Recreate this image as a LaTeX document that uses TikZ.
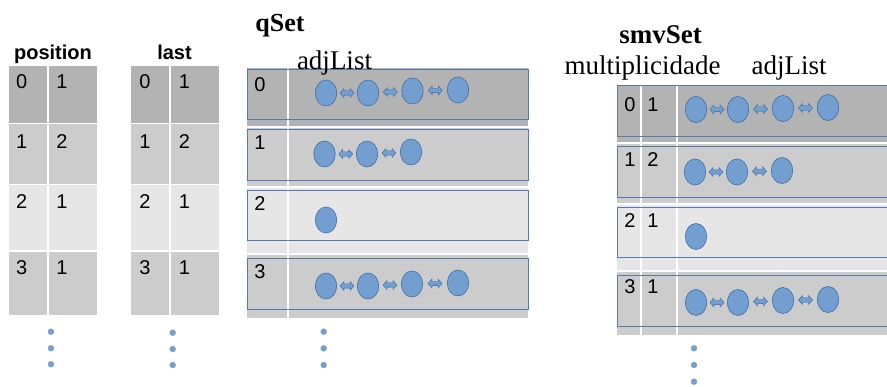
\documentclass[tikz,border=0pt]{standalone}
\usepackage{fontspec}
\setmainfont{Liberation Serif}
\newfontfamily\sansfont{Liberation Sans}
\usetikzlibrary{shapes.geometric,calc}

\definecolor{rowdark}{HTML}{B3B3B3}
\definecolor{rowmid}{HTML}{CCCCCC}
\definecolor{rowlight}{HTML}{E6E6E6}
\definecolor{nodefill}{HTML}{729FCF}
\definecolor{nodeline}{HTML}{3465A4}
\definecolor{boxline}{HTML}{5779B3}

\tikzset{
  ell/.style={ellipse, inner sep=0pt, minimum width=21.5pt, minimum height=26pt,
              fill=nodefill, draw=nodeline, line width=0.5pt},
  dotmark/.style={circle, inner sep=0pt, minimum size=6pt, fill=nodefill,
                  draw=nodeline!60, line width=0.3pt},
  num/.style={anchor=base, inner sep=0pt, font=\sansfont\fontsize{20}{23}\selectfont},
  hdr/.style={anchor=base, inner sep=0pt, font=\sansfont\bfseries\fontsize{20}{24}\selectfont},
  ttl/.style={anchor=base, inner sep=0pt, font=\bfseries\fontsize{26}{30}\selectfont},
  lbl/.style={anchor=base, inner sep=0pt, font=\fontsize{27}{30}\selectfont},
  sep/.style={white, line width=1.6pt},
  listbox/.style={draw=boxline, line width=0.9pt},
  biarrow/.pic={
    \filldraw[fill=nodefill, draw=nodeline, line width=0.4pt]
      (-7,0) -- (-3,-4.5) -- (-3,-2.2) -- (3,-2.2) -- (3,-4.5) -- (7,0)
      -- (3,4.5) -- (3,2.2) -- (-3,2.2) -- (-3,4.5) -- cycle;
  }
}

\begin{document}
\begin{tikzpicture}[x=1pt, y=-1pt]
\useasboundingbox (0,0) rectangle (887,387);

% ---------- position and last tables ----------
\foreach \xl/\xm/\xr in {9/48/97, 131/170/219} {
  \fill[rowdark]  (\xl,66)    rectangle (\xr,123.5);
  \fill[rowmid]   (\xl,123.5) rectangle (\xr,184.5);
  \fill[rowlight] (\xl,184.5) rectangle (\xr,251);
  \fill[rowmid]   (\xl,251)   rectangle (\xr,315);
  \foreach \yy in {123.5,184.5,251} \draw[sep] (\xl,\yy) -- (\xr,\yy);
  \draw[sep] (\xm,66) -- (\xm,315);
}
\node[hdr] (posHead) at (53,60) {position};
\node[hdr] (lastHead) at (174.5,60) {last};

\foreach \r/\a/\b/\y in {0/0/1/89, 1/1/2/148.3, 2/2/1/208.3, 3/3/1/274.3} {
  \node[num] (pa\r) at (21.7,\y) {\a};
  \node[num] (pb\r) at (62,\y) {\b};
  \node[num] (la\r) at (145,\y) {\a};
  \node[num] (lb\r) at (184.5,\y) {\b};
}

% ---------- qSet ----------
\fill[rowdark]  (247,68)  rectangle (528,127);
\fill[rowmid]   (247,127) rectangle (528,187);
\fill[rowlight] (247,187) rectangle (528,254);
\fill[rowmid]   (247,254) rectangle (528,318);
\foreach \yy in {127,187,254} \draw[sep] (247,\yy) -- (528,\yy);
\draw[sep] (288,68) -- (288,318);
\foreach \ya/\yb in {69/119, 129/180, 190/240, 258/309}
  \draw[listbox] (247.5,\ya) rectangle (528,\yb);

\node[ttl] (qHead) at (280,31.7) {qSet};
\node[lbl] (qAdj) at (334.5,70) {adjList};

\foreach \r/\y in {0/91.7, 1/150, 2/211, 3/278.3}
  \node[num] (qi\r) at (260,\y) {\r};

\node[ell] (q0a) at (326,93) {};
\node[ell] (q0b) at (368,93) {};
\node[ell] (q0c) at (412.5,91) {};
\node[ell] (q0d) at (458,90) {};
\node[ell] (q1a) at (324.5,154) {};
\node[ell] (q1b) at (367,154) {};
\node[ell] (q1c) at (411,152) {};
\node[ell] (q2a) at (326,220) {};
\node[ell] (q3a) at (326,286) {};
\node[ell] (q3b) at (368,286) {};
\node[ell] (q3c) at (412,284) {};
\node[ell] (q3d) at (458,283) {};

\foreach \u/\v in {q0a/q0b, q0b/q0c, q0c/q0d, q1a/q1b, q1b/q1c, q3a/q3b, q3b/q3c, q3c/q3d}
  \pic at ($(\u.east)!0.5!(\v.west)$) {biarrow};

% ---------- smvSet ----------
\fill[rowdark]  (617,85)  rectangle (890,143);
\fill[rowmid]   (617,143) rectangle (890,204);
\fill[rowlight] (617,204) rectangle (890,271);
\fill[rowmid]   (617,271) rectangle (890,335);
\foreach \yy in {143,204,271} \draw[sep] (617,\yy) -- (890,\yy);
\draw[sep] (641,85) -- (641,335);
\draw[sep] (677,85) -- (677,335);
\foreach \ya/\yb in {85.5/136, 146/197, 207/257, 275/326}
  \draw[listbox] (617.5,\ya) rectangle (892,\yb);

\node[ttl, font=\bfseries\fontsize{27}{30}\selectfont] (smvHead) at (660.5,43.3) {smvSet};
\node[lbl] (smvMult) at (642.5,75) {multiplicidade};
\node[lbl] (smvAdj) at (789,75) {adjList};

\foreach \r/\m/\y in {0/1/112, 1/2/167, 2/1/228, 3/1/294} {
  \node[num] (si\r) at (630,\y) {\r};
  \node[num] (sm\r) at (653,\y) {\m};
}

\node[ell] (s0a) at (696,109.5) {};
\node[ell] (s0b) at (738,109.5) {};
\node[ell] (s0c) at (783,108.5) {};
\node[ell] (s0d) at (828,107.5) {};
\node[ell] (s1a) at (695,172) {};
\node[ell] (s1b) at (737,172) {};
\node[ell] (s1c) at (782,170.5) {};
\node[ell] (s2a) at (696,236.5) {};
\node[ell] (s3a) at (696,302.5) {};
\node[ell] (s3b) at (738,302.5) {};
\node[ell] (s3c) at (783,300.5) {};
\node[ell] (s3d) at (828,299.5) {};

\foreach \u/\v in {s0a/s0b, s0b/s0c, s0c/s0d, s1a/s1b, s1b/s1c, s3a/s3b, s3b/s3c, s3c/s3d}
  \pic at ($(\u.east)!0.5!(\v.west)$) {biarrow};

% ---------- continuation dots ----------
\foreach \k/\x/\ya/\yb/\yc in {p/51/331.7/348.3/364.3, l/172.7/332.7/349/365,
                               q/323.7/331.7/348.3/365, s/694/348.3/365/381.7} {
  \node[dotmark] (\k dot1) at (\x,\ya) {};
  \node[dotmark] (\k dot2) at (\x,\yb) {};
  \node[dotmark] (\k dot3) at (\x,\yc) {};
}
\end{tikzpicture}
\end{document}
